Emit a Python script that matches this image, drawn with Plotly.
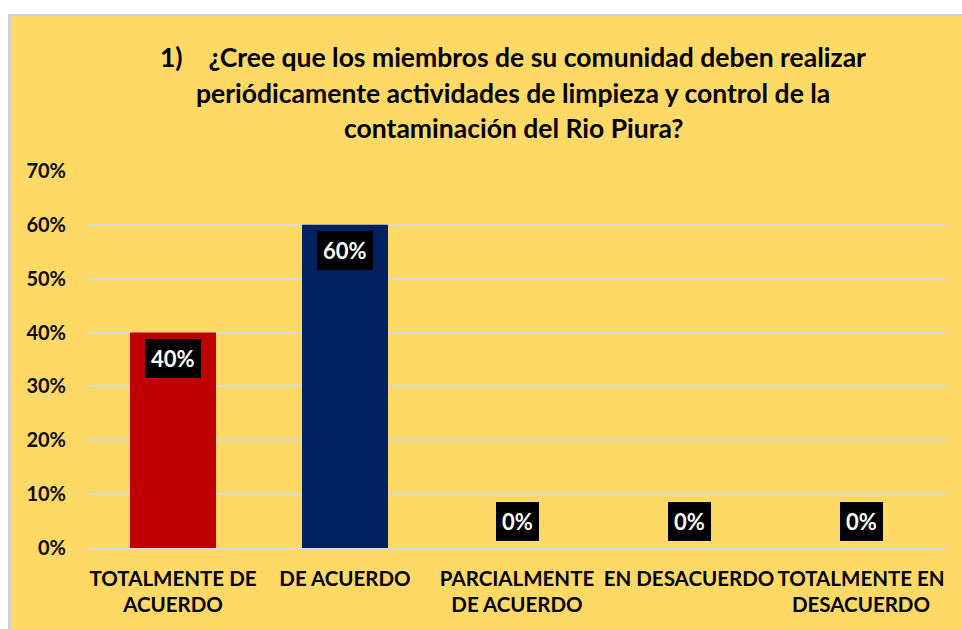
import plotly.graph_objects as go

categories = ["TOTALMENTE DE ACUERDO", "DE ACUERDO", "PARCIALMENTE DE ACUERDO",
              "EN DESACUERDO", "TOTALMENTE EN DESACUERDO"]
tick_labels = ["TOTALMENTE DE<br>ACUERDO", "DE ACUERDO", "PARCIALMENTE<br>DE ACUERDO",
               "EN DESACUERDO", "TOTALMENTE EN<br>DESACUERDO"]
values = [0.40, 0.60, 0.0, 0.0, 0.0]
bar_colors = ["#C00000", "#002060", "#C00000", "#C00000", "#C00000"]
title_lines = ["1)\u00a0\u00a0\u00a0\u00a0¿Cree que los miembros de su comunidad deben realizar",
               "periódicamente actividades de limpieza y control de la",
               "contaminación del Rio Piura?"]
y_ticks = [0, 0.1, 0.2, 0.3, 0.4, 0.5, 0.6, 0.7]

W, H = 962, 629
L, R, T, B = 87, 15, 171, 81
PW, PH = W - L - R, H - T - B
FONT = "Lato, 'Noto Sans', sans-serif"
YELLOW = "#FFD966"


def px(x):
    return (x - L) / PW


def py(y):
    return (H - B - y) / PH


fig = go.Figure()
fig.add_trace(go.Bar(
    x=categories, y=values, marker=dict(color=bar_colors, line=dict(width=0)),
    width=0.5, hoverinfo="skip",
))

annotations = []
for c, v in zip(categories, values):
    annotations.append(dict(
        x=c, y=v, xref="x", yref="y", text=f"<b>{round(v * 100)}%</b>",
        showarrow=False, bgcolor="#000000", borderpad=6, borderwidth=0,
        font=dict(family=FONT, size=22, color="white"),
        yanchor="top" if v > 0 else "bottom",
        yshift=-6 if v > 0 else 7,
    ))

for i, (line, yy) in enumerate(zip(title_lines, [57, 93, 128])):
    annotations.append(dict(
        x=px(513), y=py(yy), xref="paper", yref="paper", text=f"<b>{line}</b>",
        showarrow=False, xanchor="center", yanchor="middle",
        font=dict(family=FONT, size=26.5, color="#000000"),
    ))

shapes = [
    dict(type="rect", xref="paper", yref="paper", x0=px(0), x1=px(8), y0=py(629), y1=py(0),
         fillcolor="white", line=dict(width=0), layer="below"),
    dict(type="rect", xref="paper", yref="paper", x0=px(0), x1=px(962), y0=py(14), y1=py(0),
         fillcolor="white", line=dict(width=0), layer="below"),
    dict(type="rect", xref="paper", yref="paper", x0=px(8), x1=px(11), y0=py(629), y1=py(14),
         fillcolor="#D0D0D0", line=dict(width=0), layer="below"),
    dict(type="rect", xref="paper", yref="paper", x0=px(8), x1=px(962), y0=py(16), y1=py(14),
         fillcolor="#D0D0D0", line=dict(width=0), layer="below"),
]

fig.update_layout(
    width=W, height=H,
    margin=dict(l=L, r=R, t=T, b=B, autoexpand=False),
    paper_bgcolor=YELLOW, plot_bgcolor=YELLOW,
    showlegend=False, bargap=0.5,
    annotations=annotations, shapes=shapes,
    font=dict(family=FONT, color="#0D0D0D"),
)
fig.update_xaxes(
    tickmode="array", tickvals=categories, ticktext=[f"<b>{t}</b>" for t in tick_labels],
    tickfont=dict(family=FONT, size=20.5, color="#000000"),
    showline=True, linecolor="#D9D9D9", linewidth=2, showgrid=False, ticks="",
    ticklabelstandoff=11,
)
fig.update_yaxes(
    range=[0, 0.7], tickmode="array", tickvals=y_ticks,
    ticktext=[f"<b>{round(t * 100)}%</b>" for t in y_ticks],
    tickfont=dict(family=FONT, size=20, color="#0D0D0D"),
    showgrid=True, gridcolor="#D9D9D9", gridwidth=1.5, zeroline=False,
    showline=False, ticks="", ticklabelstandoff=20,
)

fig.write_html("out.html", config={"displayModeBar": False},
               post_script="document.body.style.margin='0';")
